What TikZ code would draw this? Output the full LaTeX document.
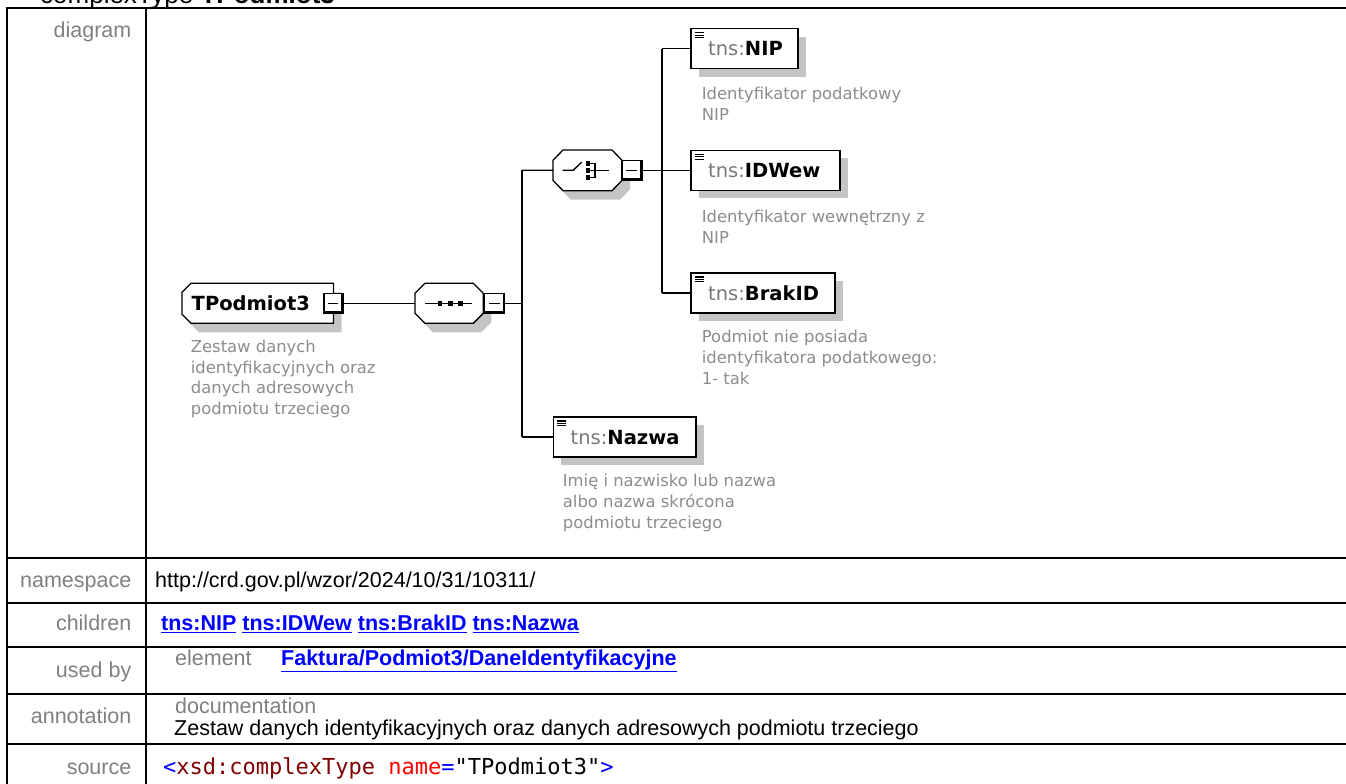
\documentclass[tikz,border=0pt]{standalone}
\usepackage{fontspec}
\setmainfont{Liberation Sans}
\newfontfamily\djv{DejaVu Sans}
\newfontfamily\monof{DejaVu Sans Mono}
\usetikzlibrary{shadows}
\definecolor{shad}{RGB}{196,196,196}
\definecolor{labgray}{RGB}{128,128,128}
\definecolor{descgray}{RGB}{140,140,140}
\definecolor{tnsgray}{RGB}{120,120,120}
\definecolor{linkblue}{RGB}{0,0,255}
\definecolor{srcred}{RGB}{128,0,0}
\definecolor{attrred}{RGB}{255,0,0}
\definecolor{srcblue}{RGB}{0,0,255}
\tikzset{
  hit/.style={rectangle, draw=none, inner sep=0pt, outer sep=0pt},
  dshadow/.style={drop shadow={shadow xshift=8pt, shadow yshift=-9pt, fill=shad, opacity=1}},
  shp/.style={draw=black, line width=1.3pt, fill=white, line join=miter},
  elembox/.style={rectangle, draw=black, line width=1.4pt, fill=white, inner sep=0pt, outer sep=0pt, anchor=north west,
     drop shadow={shadow xshift=8pt, shadow yshift=-8pt, fill=shad, opacity=1}},
  minusbox/.style={rectangle, draw=black, line width=1.1pt, fill=white, minimum width=19pt, minimum height=20pt, inner sep=0pt, outer sep=0pt},
  conn/.style={draw=black, line width=1.3pt},
  elname/.style={anchor=base west, inner sep=0pt, font=\djv\fontsize{19.5}{22}\selectfont},
  desc/.style={anchor=north west, inner sep=0pt, align=left, text=descgray, font=\djv\fontsize{16.4}{20.7}\selectfont},
  rowlab/.style={anchor=base east, inner sep=0pt, text=labgray, font=\fontsize{21.5}{24}\selectfont},
  celltxt/.style={anchor=base west, inner sep=0pt, font=\fontsize{21.5}{24}\selectfont},
  gridline/.style={line width=2pt, draw=black},
  icon/.style={line width=1.3pt, draw=black},
}
\newcommand\minusdeco[1]{%
  \draw[line width=2.2pt] ([xshift=-1.1pt]#1.north east) -- ([xshift=-1.1pt,yshift=1.1pt]#1.south east) -- ([yshift=1.1pt]#1.south west);
  \draw[line width=1.3pt] ([xshift=4pt]#1.west) -- ([xshift=-5pt]#1.east);}
\newcommand\elicon[1]{%
  \foreach \dd in {4,6.4,8.8} \draw[line width=1.1pt] ([xshift=4pt,yshift=-\dd pt]#1.north west) -- ([xshift=13pt,yshift=-\dd pt]#1.north west);}
\begin{document}
\begin{tikzpicture}[x=1pt,y=-1pt]
\useasboundingbox (0,0) rectangle (1346,784);
% title (cut off at top)
\node[anchor=base west, inner sep=0pt, font=\fontsize{26}{30}\selectfont] (title) at (40,3.5) {complexType \textbf{TPodmiot3}};
% table grid
\draw[gridline] (7,784) -- (7,8) -- (1346,8);
\draw[gridline] (145.7,8) -- (145.7,784);
\foreach \yy in {557.7,603.3,647.3,694.3,744.3} \draw[gridline] (7,\yy) -- (1346,\yy);
% row labels
\node[rowlab] (ldiag) at (131.5,37.3) {diagram};
\node[rowlab] (lns) at (131.5,587.3) {namespace};
\node[rowlab] (lch) at (131.5,630.6) {children};
\node[rowlab] (lub) at (131.5,677.3) {used by};
\node[rowlab] (lan) at (131.5,723) {annotation};
\node[rowlab] (lsrc) at (131.5,774) {source};
% cells
\node[celltxt] (vns) at (155,587.3) {http://crd.gov.pl/wzor/2024/10/31/10311/};
\node[celltxt, text=linkblue, font=\fontsize{21.5}{24}\selectfont\bfseries] (vch) at (161,630.6) {\underline{tns:NIP} \underline{tns:IDWew} \underline{tns:BrakID} \underline{tns:Nazwa}};
\node[celltxt, text=labgray] (vel) at (175,665.6) {element};
\node[celltxt, text=linkblue, font=\fontsize{21.5}{24}\selectfont\bfseries] (vub) at (281,665.6) {\underline{Faktura/Podmiot3/DaneIdentyfikacyjne}};
\node[celltxt, text=labgray] (vdoc) at (175,713.6) {documentation};
\node[celltxt] (vann) at (174,735.5) {Zestaw danych identyfikacyjnych oraz danych adresowych podmiotu trzeciego};
\node[celltxt, font=\monof\fontsize{22}{26}\selectfont] (vsrc) at (163,774) {\textcolor{srcblue}{<}\textcolor{srcred}{xsd:complexType} \textcolor{attrred}{name}\textcolor{srcblue}{=}"TPodmiot3"\textcolor{srcblue}{>}};
% ---------- diagram ----------
\node[hit, minimum width=151.5pt, minimum height=40pt] (tp) at (257.75,303.3) {};
\node[hit, minimum width=68.3pt, minimum height=40pt] (seq) at (449.15,303.3) {};
\node[hit, minimum width=69pt, minimum height=40.7pt] (cho) at (587.5,170.35) {};
% shapes
\draw[shp, dshadow] (182,292.3) -- (191,283.3) -- (333.5,283.3) -- (333.5,323.3) -- (191,323.3) -- (182,314.3) -- cycle;
\draw[shp, dshadow] (415,293.3) -- (425,283.3) -- (473.3,283.3) -- (483.3,293.3) -- (483.3,313.3) -- (473.3,323.3) -- (425,323.3) -- (415,313.3) -- cycle;
\draw[shp, dshadow] (553,160.3) -- (563,150) -- (612,150) -- (622,160.3) -- (622,180.4) -- (612,190.7) -- (563,190.7) -- (553,180.4) -- cycle;
% minus boxes
\node[minusbox] (tpm) at (333.5,303.3) {};
\node[minusbox, minimum width=20pt] (seqm) at (494.8,303.3) {};
\node[minusbox, minimum width=20pt] (chom) at (632,170.3) {};
\minusdeco{tpm}
\minusdeco{seqm}
\minusdeco{chom}
% labels of shapes
\node[anchor=base west, inner sep=0pt, font=\djv\bfseries\fontsize{19.5}{22}\selectfont] (tpt) at (191.5,310) {TPodmiot3};
% sequence icon
\draw[icon] (425,303.3) -- (472,303.3);
\foreach \xx in {440,450.3,460.7} \fill (\xx-2.3,301) rectangle (\xx+2.3,305.6);
% choice icon
\draw[icon] (562.7,170.3) -- (573.3,170.3) -- (581.7,162);
\fill (585.8,161) rectangle (590.3,165.5);
\fill (585.8,168) rectangle (590.3,172.5);
\fill (585.8,175) rectangle (590.3,179.5);
\draw[icon] (590.3,163.2) -- (595,163.2) -- (595,177.3) -- (590.3,177.3);
\draw[icon] (590.3,170.3) -- (609,170.3);
% elements
\node[elembox, minimum width=107pt, minimum height=40pt] (nip) at (691,28.8) {};
\node[elembox, minimum width=149pt, minimum height=40pt] (idw) at (691,150.3) {};
\node[elembox, minimum width=144pt, minimum height=40pt] (brk) at (691,273) {};
\node[elembox, minimum width=142.7pt, minimum height=40pt] (naz) at (553.3,417) {};
\elicon{nip}
\elicon{idw}
\elicon{brk}
\elicon{naz}
\node[elname] (nipt) at (708,55.8) {\textcolor{tnsgray}{tns:}\textbf{NIP}};
\node[elname] (idwt) at (708,177.3) {\textcolor{tnsgray}{tns:}\textbf{IDWew}};
\node[elname] (brkt) at (708,300) {\textcolor{tnsgray}{tns:}\textbf{BrakID}};
\node[elname] (nazt) at (570.5,444) {\textcolor{tnsgray}{tns:}\textbf{Nazwa}};
% descriptions
\node[desc] (tpd) at (190.7,339.7) {Zestaw danych\\identyfikacyjnych oraz\\danych adresowych\\podmiotu trzeciego};
\node[desc] (nipd) at (701.7,87) {Identyfikator podatkowy\\NIP};
\node[desc] (idwd) at (701.7,209.7) {Identyfikator wewnętrzny z\\NIP};
\node[desc] (brkd) at (701.7,330) {Podmiot nie posiada\\identyfikatora podatkowego:\\1- tak};
\node[desc] (nazd) at (562.7,474) {Imię i nazwisko lub nazwa\\albo nazwa skrócona\\podmiotu trzeciego};
% connectors
\coordinate (b1t) at (522,170.3);
\coordinate (b1b) at (522,437);
\coordinate (b2t) at (662,48.8);
\coordinate (b2b) at (662,293);
\draw[conn] (tpm.east) -- (seq.west);
\draw[conn] (seqm.east) -- (seqm.east -| b1t);
\draw[conn] (b1t) -- (b1b);
\draw[conn] (b1t) -- (cho.west);
\draw[conn] (b1b) -- (naz.west);
\draw[conn] (chom.east) -- (chom.east -| b2t);
\draw[conn] (b2t) -- (b2b);
\draw[conn] (b2t) -- (nip.west);
\draw[conn] (idw.west -| b2t) -- (idw.west);
\draw[conn] (b2b) -- (brk.west);
\end{tikzpicture}
\end{document}
